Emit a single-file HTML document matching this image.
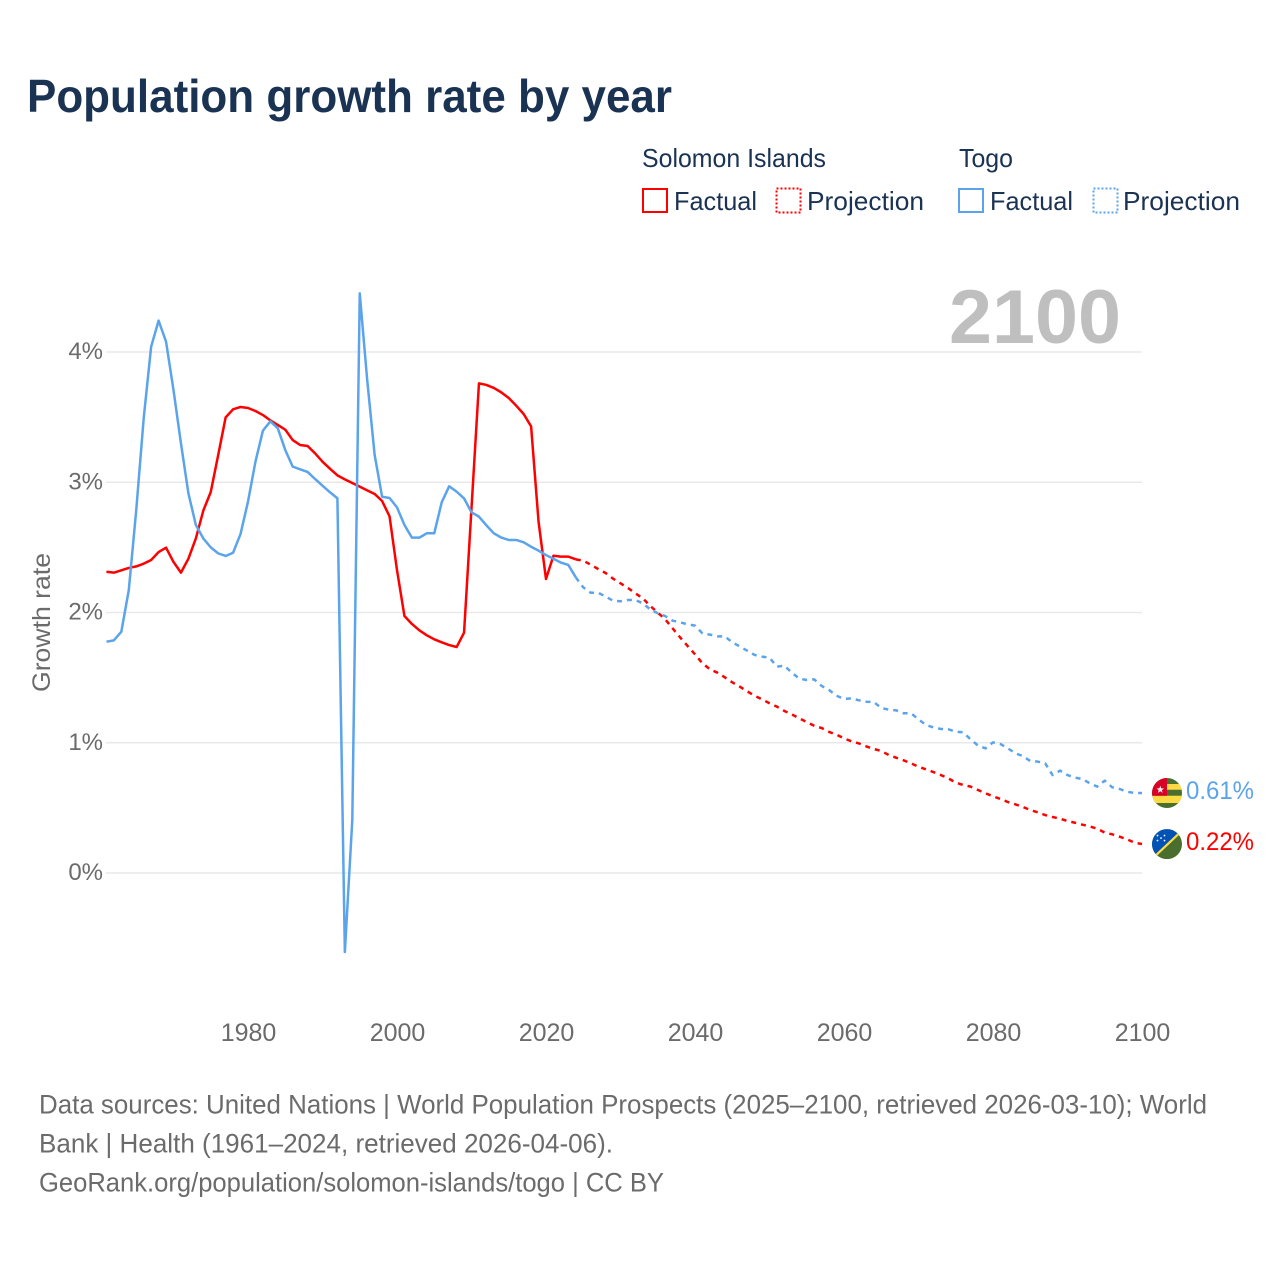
<!DOCTYPE html>
<html lang="en">
<head>
<meta charset="utf-8">
<title>Population growth rate by year</title>
<style>
html,body{margin:0;padding:0;background:#fff;width:1280px;height:1280px;overflow:hidden}
svg{display:block}
text{font-family:"Liberation Sans",sans-serif}
</style>
</head>
<body>
<svg id="chart" xmlns="http://www.w3.org/2000/svg" width="1280" height="1280" viewBox="0 0 1280 1280">
  <defs>
    <clipPath id="flag-clip"><circle cx="0" cy="0" r="15"/></clipPath>
  </defs>
  <text x="27" y="112" font-size="46" font-weight="700" fill="#1a3353" textLength="645" lengthAdjust="spacingAndGlyphs">Population growth rate by year</text>

  <g fill="#1a3353" font-size="26">
    <text x="642" y="167" textLength="184" lengthAdjust="spacingAndGlyphs">Solomon Islands</text>
    <text x="959" y="167" textLength="54" lengthAdjust="spacingAndGlyphs">Togo</text>
    <g>
      <rect x="643" y="189" width="24" height="23" fill="none" stroke="#ff0000" stroke-width="2"/>
      <text x="674" y="210" textLength="83" lengthAdjust="spacingAndGlyphs">Factual</text>
    </g>
    <g>
      <rect x="776.5" y="188.5" width="24" height="24" fill="none" stroke="#ff0000" stroke-width="2" stroke-dasharray="2 2"/>
      <text x="807" y="210" textLength="117" lengthAdjust="spacingAndGlyphs">Projection</text>
    </g>
    <g>
      <rect x="959" y="189" width="24" height="23" fill="none" stroke="#5ba4ec" stroke-width="2"/>
      <text x="990" y="210" textLength="83" lengthAdjust="spacingAndGlyphs">Factual</text>
    </g>
    <g>
      <rect x="1093.5" y="188.5" width="24" height="24" fill="none" stroke="#5ba4ec" stroke-width="2" stroke-dasharray="2 2"/>
      <text x="1123" y="210" textLength="117" lengthAdjust="spacingAndGlyphs">Projection</text>
    </g>
  </g>

  <g id="grid"></g>
  <text x="949" y="343" font-size="76" font-weight="700" fill="#bfbfbf" textLength="172" lengthAdjust="spacingAndGlyphs">2100</text>
  <g id="yticks"></g>
  <g id="xticks"></g>
  <text transform="translate(50,692) rotate(-90)" font-size="25" fill="#6b6b6b" textLength="139" lengthAdjust="spacingAndGlyphs">Growth rate</text>
  <g id="lines"></g>

  <g id="flag-togo">
    <g clip-path="url(#flag-clip)">
      <rect x="-15" y="-15" width="30" height="30" fill="#496e2d"/>
      <rect x="-15" y="-9" width="30" height="5.7" fill="#ffda44"/>
      <rect x="-15" y="2.7" width="30" height="7.3" fill="#ffda44"/>
      <rect x="-15" y="-15" width="15" height="17.7" fill="#d80027"/>
      <polygon points="-6.7,-7.3 -5.7,-4.6 -2.9,-4.6 -5.1,-2.9 -4.3,-0.2 -6.7,-1.8 -9.1,-0.2 -8.3,-2.9 -10.5,-4.6 -7.7,-4.6" fill="#f0f0f0"/>
    </g>
  </g>
  <g id="flag-solomon">
    <g clip-path="url(#flag-clip)">
      <rect x="-15" y="-15" width="30" height="30" fill="#496e2d"/>
      <polygon points="-15,-15 15,-15 15,-13.5 -13.5,15 -15,15" fill="#0052b4"/>
      <line x1="-13" y1="13" x2="13" y2="-11.5" stroke="#ffda44" stroke-width="2.2"/>
      <g fill="#f0f0f0">
        <circle cx="-6" cy="-6" r="0.9"/><circle cx="-9.5" cy="-3.5" r="0.9"/><circle cx="-2.5" cy="-3.5" r="0.9"/>
        <circle cx="-9.5" cy="-8.5" r="0.9"/><circle cx="-2.5" cy="-8.5" r="0.9"/>
      </g>
    </g>
  </g>
  <g id="end-labels"></g>

  <g font-size="27" fill="#6b6b6b">
    <text x="39" y="1113.5" textLength="1168" lengthAdjust="spacingAndGlyphs">Data sources: United Nations | World Population Prospects (2025–2100, retrieved 2026-03-10); World</text>
    <text x="39" y="1152.5" textLength="574" lengthAdjust="spacingAndGlyphs">Bank | Health (1961–2024, retrieved 2026-04-06).</text>
    <text x="39" y="1191.5" textLength="625" lengthAdjust="spacingAndGlyphs">GeoRank.org/population/solomon-islands/togo | CC BY</text>
  </g>
</svg>
<script>
const factualYears = [1961,1962,1963,1964,1965,1966,1967,1968,1969,1970,1971,1972,1973,1974,1975,1976,1977,1978,1979,1980,1981,1982,1983,1984,1985,1986,1987,1988,1989,1990,1991,1992,1993,1994,1995,1996,1997,1998,1999,2000,2001,2002,2003,2004,2005,2006,2007,2008,2009,2010,2011,2012,2013,2014,2015,2016,2017,2018,2019,2020,2021,2022,2023,2024];
const solomonFactual = [2.313,2.306,2.324,2.342,2.354,2.375,2.403,2.464,2.498,2.388,2.306,2.413,2.569,2.782,2.925,3.209,3.498,3.560,3.578,3.570,3.547,3.516,3.475,3.440,3.404,3.324,3.286,3.278,3.222,3.158,3.104,3.053,3.022,2.994,2.966,2.938,2.910,2.856,2.738,2.326,1.973,1.912,1.863,1.825,1.794,1.771,1.750,1.735,1.845,2.802,3.759,3.747,3.724,3.690,3.647,3.588,3.524,3.429,2.697,2.257,2.436,2.429,2.429,2.408];
const togoFactual = [1.776,1.786,1.853,2.173,2.787,3.491,4.041,4.241,4.079,3.708,3.299,2.915,2.672,2.569,2.500,2.454,2.434,2.459,2.603,2.851,3.158,3.396,3.468,3.414,3.248,3.120,3.099,3.079,3.025,2.974,2.923,2.877,-0.607,0.407,4.450,3.785,3.209,2.889,2.879,2.807,2.672,2.575,2.575,2.608,2.608,2.846,2.969,2.928,2.876,2.769,2.736,2.669,2.608,2.575,2.557,2.557,2.539,2.505,2.475,2.441,2.413,2.383,2.365,2.270];
const projectionYears = [2024,2025,2026,2027,2028,2029,2030,2031,2032,2033,2034,2035,2036,2037,2038,2039,2040,2041,2042,2043,2044,2045,2046,2047,2048,2049,2050,2051,2052,2053,2054,2055,2056,2057,2058,2059,2060,2061,2062,2063,2064,2065,2066,2067,2068,2069,2070,2071,2072,2073,2074,2075,2076,2077,2078,2079,2080,2081,2082,2083,2084,2085,2086,2087,2088,2089,2090,2091,2092,2093,2094,2095,2096,2097,2098,2099,2100];
const solomonProjection = [2.408,2.398,2.367,2.334,2.303,2.260,2.224,2.188,2.147,2.109,2.050,1.999,1.948,1.878,1.809,1.743,1.679,1.610,1.564,1.538,1.502,1.464,1.431,1.395,1.361,1.333,1.303,1.277,1.244,1.218,1.187,1.159,1.131,1.113,1.083,1.062,1.034,1.011,0.995,0.972,0.952,0.937,0.906,0.885,0.865,0.842,0.816,0.796,0.775,0.752,0.727,0.694,0.676,0.663,0.637,0.612,0.589,0.568,0.545,0.527,0.507,0.484,0.466,0.445,0.430,0.417,0.399,0.386,0.371,0.358,0.340,0.310,0.297,0.279,0.258,0.233,0.222];
const togoProjection = [2.270,2.193,2.152,2.152,2.122,2.091,2.086,2.096,2.096,2.070,2.024,1.994,1.973,1.937,1.925,1.909,1.899,1.840,1.830,1.817,1.817,1.771,1.740,1.707,1.674,1.661,1.653,1.584,1.592,1.538,1.492,1.482,1.487,1.436,1.405,1.361,1.336,1.341,1.326,1.315,1.313,1.267,1.254,1.249,1.226,1.226,1.180,1.136,1.118,1.106,1.103,1.085,1.080,1.026,0.978,0.957,1.003,0.990,0.957,0.919,0.898,0.860,0.855,0.842,0.752,0.786,0.752,0.732,0.722,0.688,0.663,0.709,0.658,0.645,0.624,0.614,0.614];
const yTickValues = [0,1,2,3,4];
const xTickYears = [1980,2000,2020,2040,2060,2080,2100];

const NS = 'http://www.w3.org/2000/svg';
const RED = '#ff0000';
const BLUE = '#5ba4ec';
function xScale(year){ return 1142 - (2100 - year) * 7.45; }
function yScale(value){ return 873 - value * 130.25; }
function pathFrom(years, values){
  return values.map(function(v,i){
    return (i ? 'L' : 'M') + xScale(years[i]).toFixed(2) + ' ' + yScale(v).toFixed(2);
  }).join(' ');
}

const grid = document.getElementById('grid');
const yticks = document.getElementById('yticks');
yTickValues.forEach(function(v){
  const line = document.createElementNS(NS,'line');
  
  
  line.setAttribute('x1', 106);
  line.setAttribute('x2', 1142);
  line.setAttribute('y1', yScale(v));
  line.setAttribute('y2', yScale(v));
  line.setAttribute('stroke', '#e9e9e9');
  line.setAttribute('stroke-width', 1.4);
  grid.appendChild(line);
  const t = document.createElementNS(NS,'text');
  
  
  t.setAttribute('x', 103);
  t.setAttribute('y', yScale(v) + 7);
  t.setAttribute('text-anchor', 'end');
  t.setAttribute('font-size', 24);
  t.setAttribute('fill', '#6b6b6b');
  t.textContent = v + '%';
  yticks.appendChild(t);
});

const xticks = document.getElementById('xticks');
xTickYears.forEach(function(y){
  const t = document.createElementNS(NS,'text');
  
  
  t.setAttribute('x', xScale(y) + 0.5);
  t.setAttribute('y', 1041);
  t.setAttribute('text-anchor', 'middle');
  t.setAttribute('font-size', 25);
  t.setAttribute('fill', '#6b6b6b');
  t.textContent = y;
  xticks.appendChild(t);
});

const lines = document.getElementById('lines');
function addLine(name, years, values, color, dashed){
  const p = document.createElementNS(NS,'path');
  
  
  p.setAttribute('d', pathFrom(years, values));
  p.setAttribute('fill', 'none');
  p.setAttribute('stroke', color);
  p.setAttribute('stroke-width', 2.5);
  p.setAttribute('stroke-linejoin', 'round');
  if (dashed) p.setAttribute('stroke-dasharray', '5 5');
  lines.appendChild(p);
}
addLine('solomon-islands-factual-line', factualYears, solomonFactual, RED, false);
addLine('solomon-islands-projection-line', projectionYears, solomonProjection, RED, true);
addLine('togo-factual-line', factualYears, togoFactual, BLUE, false);
addLine('togo-projection-line', projectionYears, togoProjection, BLUE, true);

const lastYear = projectionYears[projectionYears.length - 1];
const togoLast = togoProjection[togoProjection.length - 1];
const solomonLast = solomonProjection[solomonProjection.length - 1];
document.getElementById('flag-togo').setAttribute('transform', 'translate(' + (xScale(lastYear) + 25) + ',' + yScale(togoLast) + ')');
document.getElementById('flag-solomon').setAttribute('transform', 'translate(' + (xScale(lastYear) + 25) + ',' + yScale(solomonLast) + ')');

const endLabels = document.getElementById('end-labels');
const togoLabel = document.createElementNS(NS,'text');


togoLabel.setAttribute('x', xScale(lastYear) + 44);
togoLabel.setAttribute('y', yScale(togoLast) + 6);
togoLabel.setAttribute('font-size', 25);
togoLabel.setAttribute('fill', BLUE);
togoLabel.setAttribute('textLength', 68);
togoLabel.setAttribute('lengthAdjust', 'spacingAndGlyphs');
togoLabel.textContent = togoLast.toFixed(2) + '%';
endLabels.appendChild(togoLabel);
const solomonLabel = document.createElementNS(NS,'text');


solomonLabel.setAttribute('x', xScale(lastYear) + 44);
solomonLabel.setAttribute('y', yScale(solomonLast) + 6);
solomonLabel.setAttribute('font-size', 25);
solomonLabel.setAttribute('fill', RED);
solomonLabel.setAttribute('textLength', 68);
solomonLabel.setAttribute('lengthAdjust', 'spacingAndGlyphs');
solomonLabel.textContent = solomonLast.toFixed(2) + '%';
endLabels.appendChild(solomonLabel);
</script>
</body>
</html>
